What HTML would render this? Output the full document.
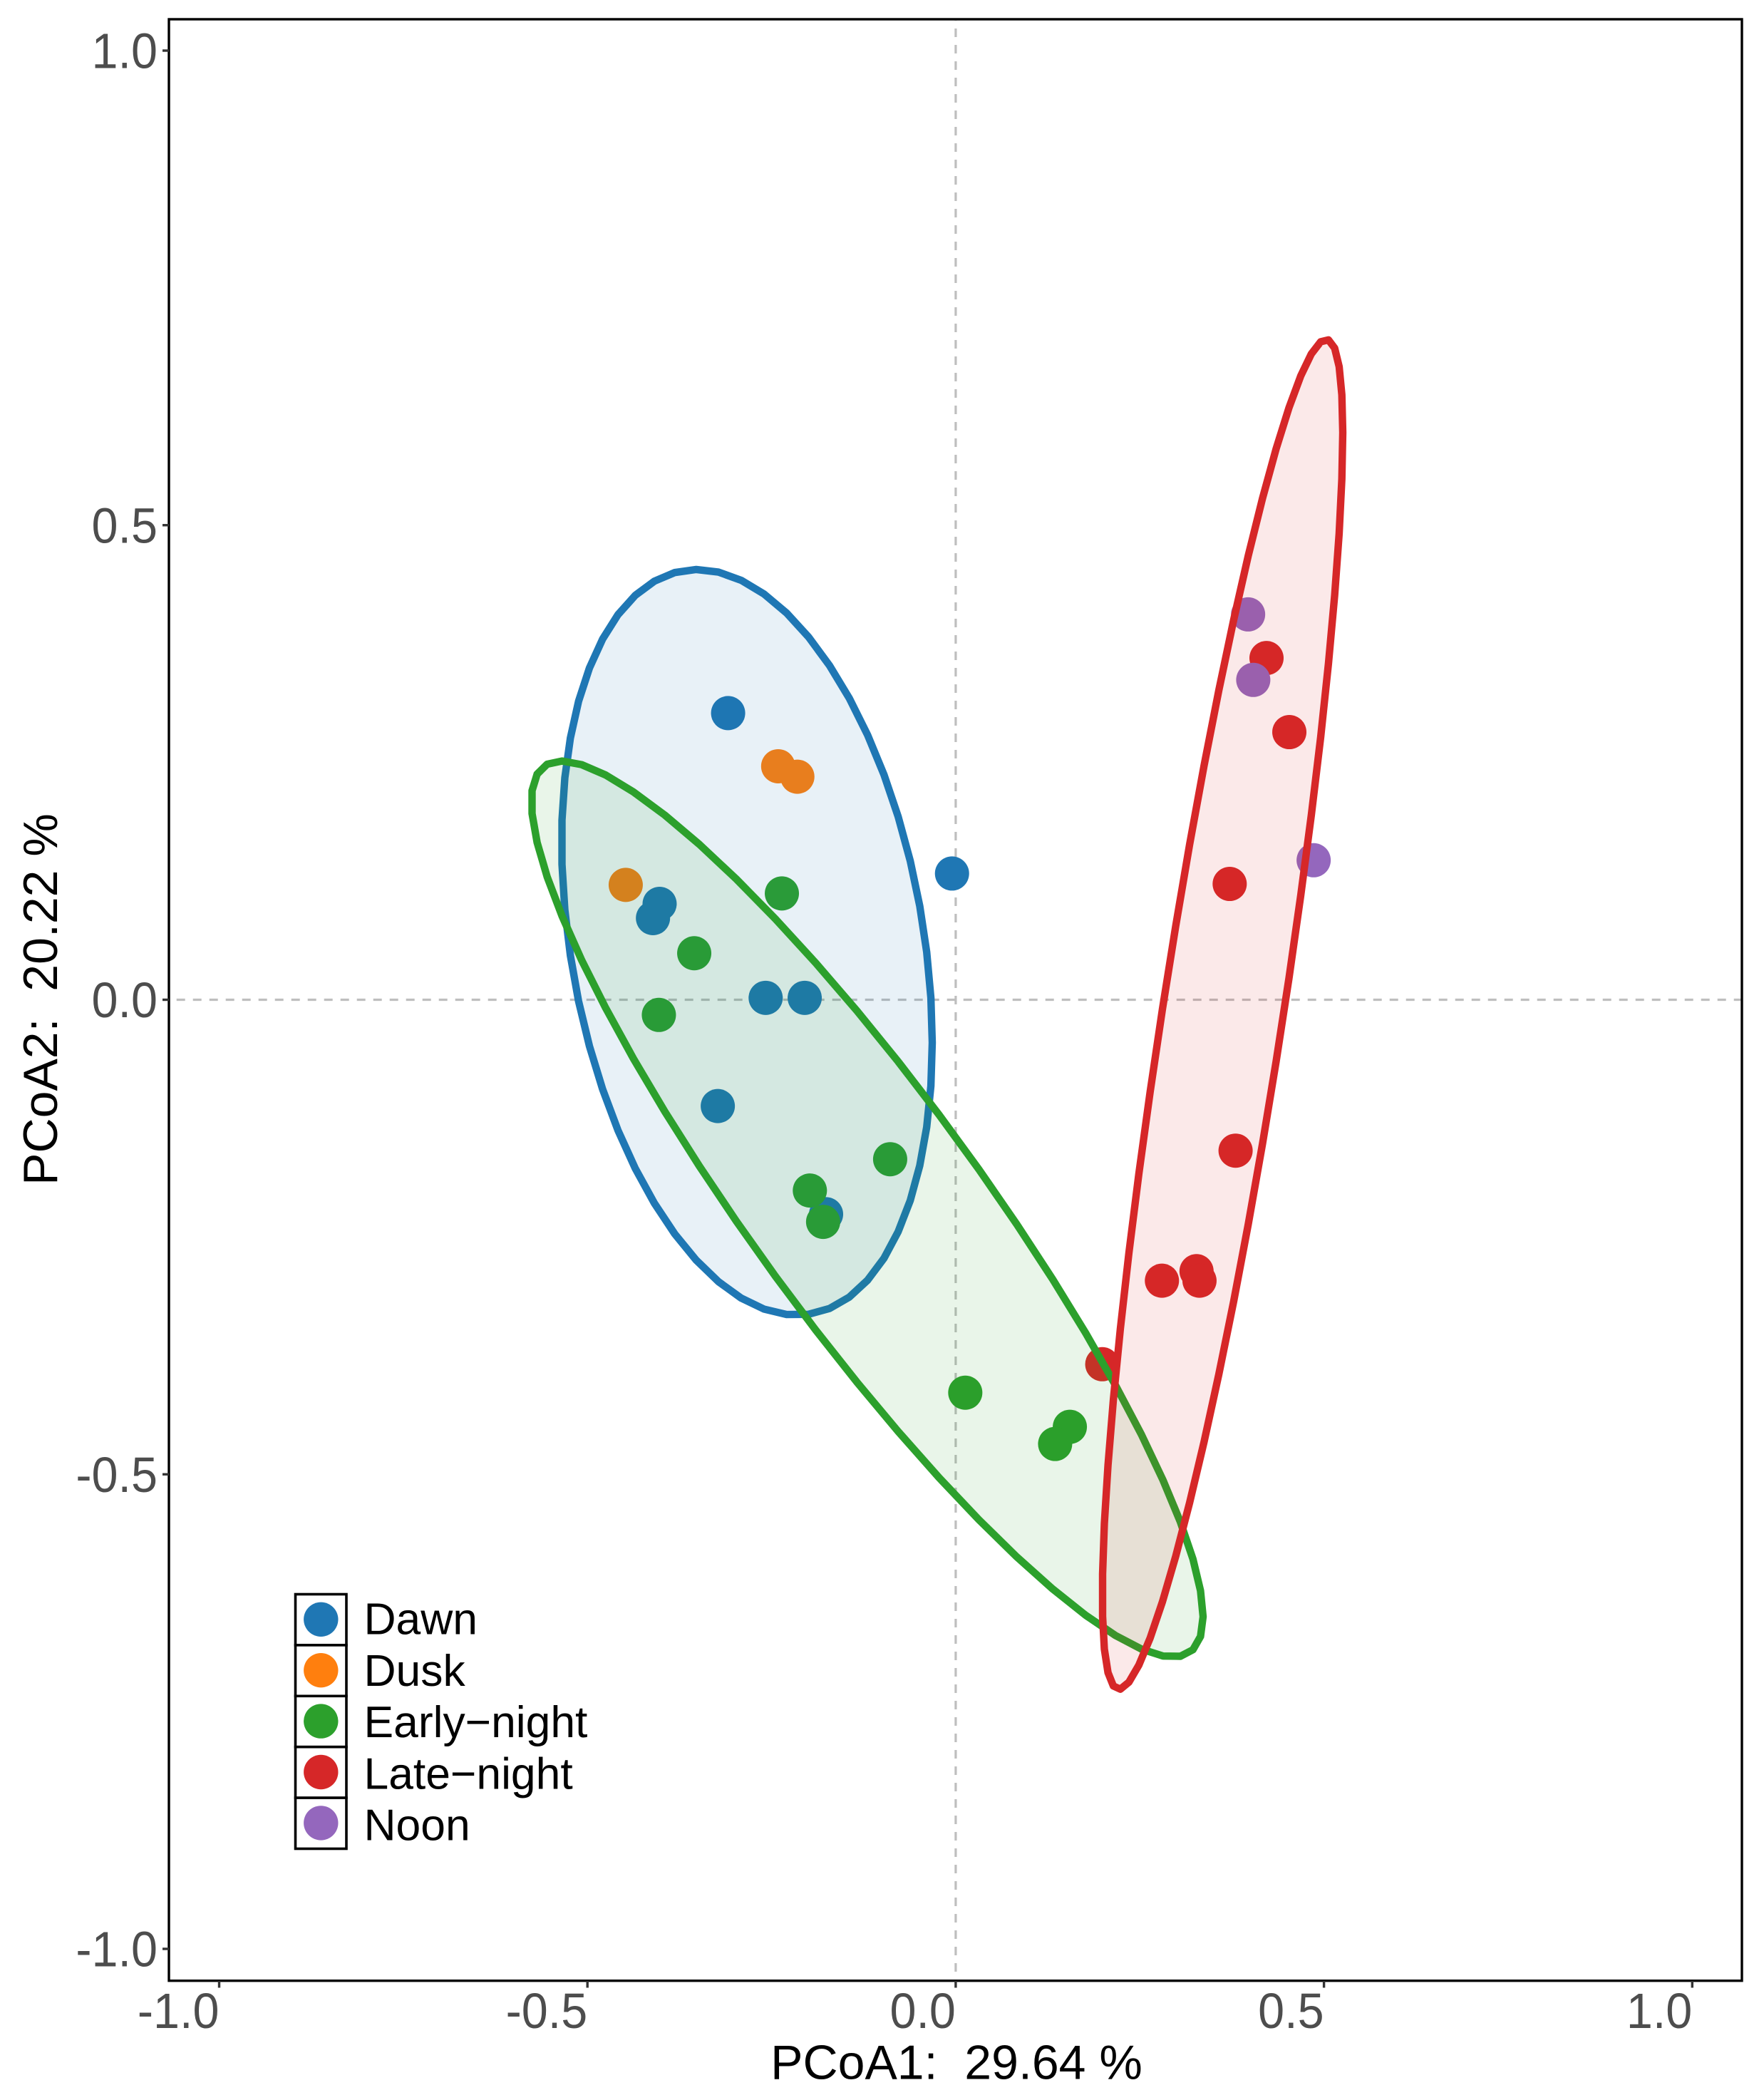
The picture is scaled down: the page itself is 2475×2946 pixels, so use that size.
<!DOCTYPE html>
<html lang="en">
<head>
<meta charset="utf-8">
<title>PCoA ordination by time of day</title>
<style>
html,body{margin:0;padding:0;background:#fff;}
svg{display:block;font-family:"Liberation Sans",Arial,sans-serif;}
</style>
</head>
<body>
<svg id="chart" xmlns="http://www.w3.org/2000/svg" width="2475" height="2946" viewBox="0 0 2475 2946">
  <rect x="0" y="0" width="2475" height="2946" fill="#ffffff"/>
  <g id="refs"></g>
  <g id="points"></g>
  <g id="ellipses"></g>
  <rect x="237" y="27" width="2207" height="2751.7" fill="none" stroke="#000" stroke-width="3.4"/>
  <g id="xaxis"></g>
  <g id="yaxis"></g>
  <text x="1342" y="2916.7" font-size="68" text-anchor="middle" fill="#000" xml:space="preserve">PCoA1:  29.64 %</text>
  <text transform="translate(80,1402) rotate(-90)" font-size="68" text-anchor="middle" fill="#000" xml:space="preserve">PCoA2:  20.22 %</text>
  <g id="legend"></g>
</svg>
<script>
// ---- Data ----
const xTicks = [-1.0, -0.5, 0.0, 0.5, 1.0];
const yTicks = [-1.0, -0.5, 0.0, 0.5, 1.0];
const xTickLabels = ["-1.0", "-0.5", "0.0", "0.5", "1.0"];
const yTickLabels = ["-1.0", "-0.5", "0.0", "0.5", "1.0"];

const groups = ["Dawn", "Dusk", "Early\u2212night", "Late\u2212night", "Noon"];
const groupColors = ["#1f77b4", "#ff7f0e", "#2ca02c", "#d62728", "#9467bd"];

const dawnX = [-0.309, -0.005, -0.402, -0.411, -0.258, -0.205, -0.323, -0.176];
const dawnY = [0.302, 0.133, 0.101, 0.086, 0.002, 0.002, -0.112, -0.226];
const duskX = [-0.241, -0.215, -0.448];
const duskY = [0.246, 0.235, 0.121];
const earlyX = [-0.236, -0.355, -0.403, -0.089, -0.198, -0.180, 0.013, 0.155, 0.135];
const earlyY = [0.112, 0.049, -0.016, -0.168, -0.201, -0.234, -0.414, -0.450, -0.468];
const lateX = [0.422, 0.453, 0.372, 0.380, 0.327, 0.280, 0.331, 0.199];
const lateY = [0.360, 0.282, 0.122, -0.159, -0.286, -0.296, -0.296, -0.384];
const noonX = [0.397, 0.404, 0.486];
const noonY = [0.406, 0.337, 0.147];

// Ellipse summaries per group: Dawn, Early-night, Late-night
const ellipseGroups = ["Dawn", "Early-night", "Late-night"];
const ellipseColors = ["#1f77b4", "#2ca02c", "#d62728"];
const ellipseCenterX = [-0.2834, -0.1201, 0.3623];
const ellipseCenterY = [0.0605, -0.2205, -0.0154];
const ellipseHalfWidth = [0.2516, 0.4560, 0.1632];
const ellipseHalfHeight = [0.3928, 0.4720, 0.7112];
const ellipseCorrelation = [-0.269, -0.91, 0.862];

// ---- Axis functions ----
const xScale = v => 1340.9 + v * 1033.4;
const yScale = v => 1402.5 - v * 1331.5;

const NS = "http://www.w3.org/2000/svg";
function make(tag, parent) {
  const el = document.createElementNS(NS, tag);
  parent.appendChild(el);
  return el;
}
const set = (el, props) => { for (const k in props) el.setAttribute(k, props[k]); };

// ---- Reference lines ----
const refs = document.getElementById("refs");
const hRef = make("line", refs);


set(hRef, {x1: 237, x2: 2444, y1: yScale(0), y2: yScale(0), stroke: "#bebebe", "stroke-width": 3.2, "stroke-dasharray": "12 11", "stroke-dashoffset": 12.3});
const vRef = make("line", refs);


set(vRef, {x1: xScale(0), x2: xScale(0), y1: 27, y2: 2778.7, stroke: "#bebebe", "stroke-width": 3.2, "stroke-dasharray": "12 11", "stroke-dashoffset": 10});

// ---- Points ----
const pointsLayer = document.getElementById("points");
const pointSeries = [[dawnX, dawnY], [duskX, duskY], [earlyX, earlyY], [lateX, lateY], [noonX, noonY]];
pointSeries.forEach((series, g) => {
  series[0].forEach((xv, i) => {
    const c = make("circle", pointsLayer);
    
    
    set(c, {cx: xScale(xv), cy: yScale(series[1][i]), r: 24, fill: groupColors[g]});
  });
});

// ---- Ellipses ----
const ellipseLayer = document.getElementById("ellipses");
ellipseGroups.forEach((name, g) => {
  const rho = ellipseCorrelation[g];
  const q = Math.sqrt(1 - rho * rho);
  const verts = [];
  for (let k = 0; k < 51; k++) {
    const t = 2 * Math.PI * k / 51;
    const dx = ellipseCenterX[g] + ellipseHalfWidth[g] * Math.cos(t);
    const dy = ellipseCenterY[g] + ellipseHalfHeight[g] * (rho * Math.cos(t) + q * Math.sin(t));
    verts.push(xScale(dx).toFixed(1) + "," + yScale(dy).toFixed(1));
  }
  const p = make("polygon", ellipseLayer);
  
  
  set(p, {points: verts.join(" "), fill: ellipseColors[g], "fill-opacity": 0.1, stroke: ellipseColors[g], "stroke-width": 10.4, "stroke-linejoin": "round"});
});

// ---- Axes ----
const xAxis = document.getElementById("xaxis");
xTicks.forEach((v, i) => {
  const t = make("line", xAxis);
  
  
  set(t, {x1: xScale(v), x2: xScale(v), y1: 2778.7, y2: 2788.5, stroke: "#333333", "stroke-width": 3.4});
  const l = make("text", xAxis);
  
  
  set(l, {transform: "translate(" + xScale(v) + ",2845) scale(0.95,1)", "font-size": 70, "text-anchor": "end", fill: "#4d4d4d"});
  l.textContent = xTickLabels[i];
});
const yAxis = document.getElementById("yaxis");
yTicks.forEach((v, i) => {
  const t = make("line", yAxis);
  
  
  set(t, {x1: 228, x2: 237, y1: yScale(v), y2: yScale(v), stroke: "#333333", "stroke-width": 3.4});
  const l = make("text", yAxis);
  
  
  set(l, {transform: "translate(221," + (yScale(v) + 24.5) + ") scale(0.95,1)", "font-size": 70, "text-anchor": "end", fill: "#4d4d4d"});
  l.textContent = yTickLabels[i];
});

// ---- Legend ----
const legend = document.getElementById("legend");
groups.forEach((name, i) => {
  const box = make("rect", legend);
  
  
  set(box, {x: 414.5, y: 2236.5 + i * 71.4, width: 71.5, height: 71.4, fill: "#fff", stroke: "#000", "stroke-width": 3.6});
  const dot = make("circle", legend);
  
  
  set(dot, {cx: 450.3, cy: 2271.8 + i * 71.4, r: 24.2, fill: groupColors[i]});
  const label = make("text", legend);
  
  
  set(label, {x: 510.5, y: 2292.7 + i * 72.2, "font-size": 62.4, fill: "#000"});
  label.textContent = name;
});
</script>
</body>
</html>
